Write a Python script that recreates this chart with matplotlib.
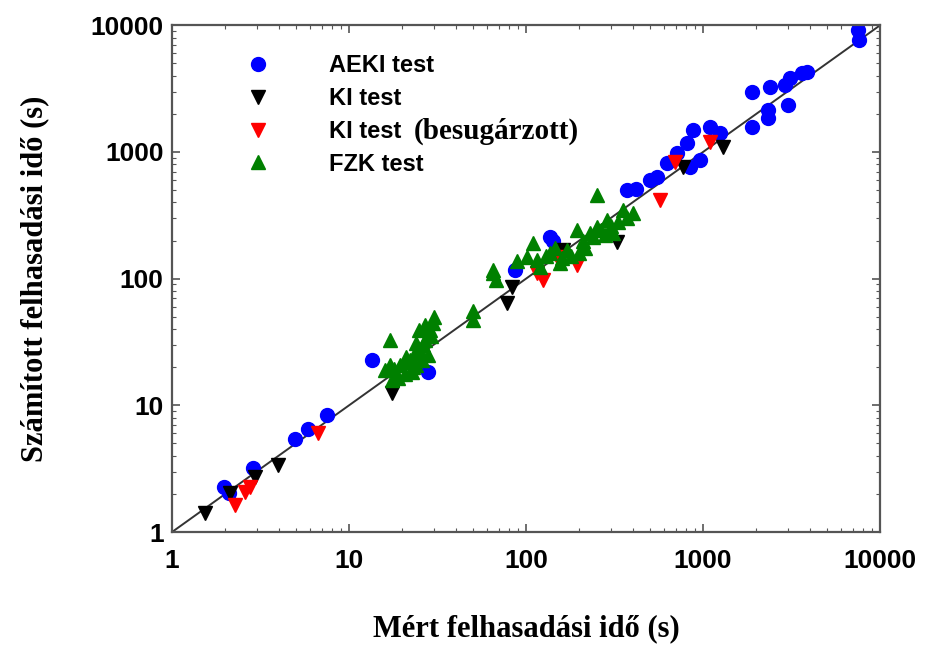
import matplotlib
matplotlib.use("Agg")
import matplotlib.pyplot as plt
from matplotlib.lines import Line2D
from matplotlib.ticker import LogLocator, FixedLocator, FixedFormatter, NullFormatter

aeki_meas = [1.97, 2.1, 2.87, 4.95, 5.87, 7.5, 13.5, 27.9, 86.7, 137, 142,
             372, 420, 501, 550, 626, 713, 810, 878, 1097, 1248, 962, 844,
             1890, 1890, 2390, 2905, 3100, 3625, 3870, 3020, 2330, 2330, 7510, 7600]
aeki_calc = [2.26, 2.05, 3.2, 5.4, 6.5, 8.4, 22.8, 18.3, 117, 212, 200,
             499, 510, 599, 630, 815, 980, 1170, 1480, 1567, 1406, 861, 760,
             1567, 2950, 3240, 3360, 3820, 4180, 4265, 2340, 2140, 1846, 9120, 7600]

ki_meas = [1.54, 2.13, 2.94, 3.97, 17.5, 78, 83, 162, 327, 771, 1297]
ki_calc = [1.41, 2.03, 2.7, 3.38, 12.6, 64, 86, 168, 194, 760, 1089]

kib_meas = [2.27, 2.58, 2.76, 6.68, 115, 125, 150, 194, 571, 695, 1096]
kib_calc = [1.63, 2.07, 2.27, 6.04, 110, 97, 148, 128, 416, 830, 1194]

fzk_meas = [16, 17, 18, 19.4, 20.6, 22, 23.5, 25, 27, 28.7, 29.8, 27, 25, 28,
            18.9, 17.5, 20.6, 22.6, 24, 25.8, 17, 30, 50, 50,
            21, 23, 26, 29, 24,
            65, 68, 89, 101, 109, 120, 137, 155, 170, 194, 200, 239, 252, 285,
            310, 352, 400, 252, 65,
            115, 130, 145, 160, 180, 210, 230, 265, 300, 330, 370, 280, 215]
fzk_calc = [19, 21, 19.5, 20.7, 22, 22.8, 26, 28, 32.6, 39, 45, 43, 39, 25,
            16.4, 15.8, 17.6, 18.3, 20.7, 22.8, 32.7, 50, 56, 47,
            24, 20, 30, 35, 31,
            117, 97, 139, 148, 190, 123, 160, 132, 168, 240, 160, 212, 255, 290,
            228, 346, 330, 456, 110,
            140, 150, 175, 145, 150, 200, 230, 240, 260, 280, 300, 220, 175]

diag = [1, 10000]

ticks = [1, 10, 100, 1000, 10000]
tick_labels = ["1", "10", "100", "1000", "10000"]
legend_labels = ["AEKI test", "KI test", "KI test", "FZK test"]

fig = plt.figure(figsize=(9.31, 6.48), dpi=100)
ax = fig.add_axes([0.1848, 0.179, 0.7605, 0.782])

ax.plot(diag, diag, color="#333333", lw=1.4, zorder=1)
ax.plot(aeki_meas, aeki_calc, "o", color="#0000ff", ms=10, zorder=2)
ax.plot(ki_meas, ki_calc, "v", color="black", ms=10, zorder=3)
ax.plot(kib_meas, kib_calc, "v", color="#ff0000", ms=10, zorder=4)
ax.plot(fzk_meas, fzk_calc, "^", color="#008000", ms=10, zorder=5)

ax.set_xscale("log")
ax.set_yscale("log")
ax.set_xlim(1, 10000)
ax.set_ylim(1, 10000)

for axis in (ax.xaxis, ax.yaxis):
    axis.set_major_locator(FixedLocator(ticks))
    axis.set_major_formatter(FixedFormatter(tick_labels))
    axis.set_minor_locator(LogLocator(base=10, subs=range(2, 10)))
    axis.set_minor_formatter(NullFormatter())

ax.tick_params(which="both", direction="in", top=True, right=True, colors="#555555",
               labelcolor="black")
ax.tick_params(which="major", length=6, width=1.2)
ax.tick_params(which="minor", length=3, width=0.8)
ax.tick_params(axis="x", pad=12)
ax.tick_params(axis="y", pad=6)
for lab in ax.get_xticklabels() + ax.get_yticklabels():
    lab.set_fontfamily("Liberation Sans")
    lab.set_fontweight("bold")
    lab.set_fontsize(19)

for sp in ax.spines.values():
    sp.set_color("#555555")
    sp.set_linewidth(1.6)

ax.set_xlabel("Mért felhasadási idő (s)", fontfamily="Liberation Serif",
              fontweight="bold", fontsize=22, labelpad=30)
ax.set_ylabel("Számított felhasadási idő (s)", fontfamily="Liberation Serif",
              fontweight="bold", fontsize=22, labelpad=30)

handles = [
    Line2D([], [], ls="none", marker="o", color="#0000ff", ms=10),
    Line2D([], [], ls="none", marker="v", color="black", ms=10),
    Line2D([], [], ls="none", marker="v", color="#ff0000", ms=10),
    Line2D([], [], ls="none", marker="^", color="#008000", ms=10),
]
leg = ax.legend(handles, legend_labels, loc="upper left", bbox_to_anchor=(0.092, 0.962),
                frameon=False, handlelength=1.0, handletextpad=2.5,
                labelspacing=0.42, borderaxespad=0,
                prop={"family": "Liberation Sans", "weight": "bold", "size": 17})

# serif part of the third legend entry, placed right after "KI test"
fig.canvas.draw()
bb = leg.get_texts()[2].get_window_extent()
fig.text(bb.x1 + 12, (bb.y0 + bb.y1) / 2, "(besugárzott)", fontfamily="Liberation Serif",
         fontweight="bold", fontsize=21, va="center", ha="left",
         transform=None)

fig.savefig("out.png", dpi=100)
